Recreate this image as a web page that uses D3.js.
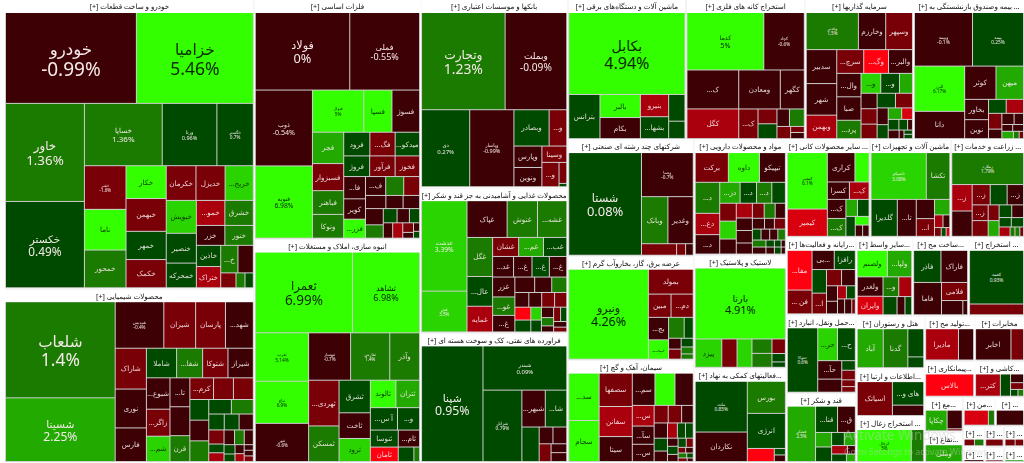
<!DOCTYPE html>
<html><head><meta charset="utf-8">
<style>html,body{margin:0;padding:0;background:#fff;overflow:hidden}svg{display:block;filter:blur(0.3px)}text{font-family:"Noto Sans","DejaVu Sans",sans-serif}</style>
<script src="https://cdn.jsdelivr.net/npm/d3@7"></script></head><body><div id="c"></div>
<script>
// [name, change %, weight]
const auto=[["خودرو",-0.99,11528],["خزامیا",5.46,10300],["خاور",1.36,7500],["خکستر",0.49,6600],["خساپا",1.36,4700],["ورنا",0.96,3300],["خگستر",0.7,2200],["خفنر",-1.6,1760],["ناما",5,1640],["خمحور",1.5,1520],["خکار",5,1280],["خبهمن",-1.5,1280],["خمهر",0.5,1100],["خکمک",-1.5,1100],["خکرمان",-1.5,1000],["خدیزل",-1.5,980],["خریخ...",3.5,950],["خبویش",3.5,960],["خنصیر",0.5,870],["خمحرکه",0.5,720],["خمو...",-2.5,690],["خشرق",1.5,690],["خزر",-0.6,550],["خنور",1.5,550],["خاذین",0.5,500],["ختراک",-2.5,500],["خ...",1.5,460],["",-0.6,410],["",-1.5,220],["",1.5,130],["",0.5,120]];
const chem=[["شلعاب",1.4,10260],["شسینا",2.25,6800],["شپدیس",-0.4,2200],["شیران",-1.5,1440],["پارسان",-1.5,1350],["شهد...",-0.6,1260],["شاراک",-1.5,1240],["نوری",-0.6,1180],["فارس",-0.6,1020],["شاملا",0.5,870],["شفا...",1.5,750],["شتوکا",-1.5,730],["شیراز",-0.6,730],["شبوع...",-0.6,720],["زاگر...",-1.5,620],["شم...",3.5,580],["تا...",-0.6,560],["",-0.6,560],["قرن",1.5,500],["کرم...",-1.5,500],["",-1.5,420],["",-1.5,420],["",0.5,380],["",-0.6,380],["",1.5,380],["",0.5,320],["",1.5,310],["",0.5,240],["",0.5,230],["",-0.6,220],["",-1.5,210],["",0.5,130],["",-2.5,130],["",-0.6,150],["",1.5,140],["",-0.6,130],["",0.5,100],["",0.5,80],["",-0.6,80],["",-2.5,70],["",-0.6,50],["",-0.6,50],["",-1.5,50]];
const metals=[["فولاد",0,7100],["فملی",-0.55,5250],["ذوب",-0.54,4200],["فنوبه",6.98,4000],["فنوال",5,2100],["فسپا",5,1150],["فسوژ",-0.6,1130],["فجر",2.5,950],["فسبزوار",-1.5,820],["فباهنر",1.5,720],["ونوکا",1.5,720],["فرود",0.5,600],["فگ...",-1.5,580],["میدکو...",0.5,560],["فروژ",0.5,520],["فرآور",-1.5,510],["فخوز",-1.5,490],["فا...",-0.6,470],["کویر",-0.6,430],["فزر...",5,400],["ف...",-0.6,370],["",1.5,330],["",-1.5,290],["",-0.6,260],["",-0.6,220],["",-0.6,210],["",-0.6,280],["",1.5,230],["",0.5,190],["",-0.6,170],["",0.5,140],["",-0.6,140],["",-2.5,150],["",-1.5,100],["",-0.6,60],["",-0.6,50],["",0.5,40]];
const mass=[["ثعمرا",6.99,7600],["ثشاهد",6.98,5250],["ثغرب",5.14,2500],["ثباغ",6.9,2180],["ثنور",-0.6,1970],["ثبهساز",-0.7,1930],["ثفارس",1.4,1800],["وآذر",1.5,1370],["ثهردی...",-1.5,1350],["ثمسکن",1.5,1050],["ثشرق",0.5,990],["ثاخت",-0.6,780],["ثرود",3.5,700],["ثالوند",5,680],["ثتران",2.5,630],["آ س...",0.5,590],["و...",0.5,480],["ثنوسا",0.5,460],["ثامان",-5,390],["ثام...",-0.6,350],["",0.5,220],["",1.5,80]];
const banks=[["وتجارت",1.23,8000],["وبملت",-0.09,5900],["دی",0.27,3650],["وپاسار",-0.99,3350],["وبصادر",0.5,1260],["و...",-1.5,630],["وپارس",-0.6,590],["ونوین",-0.6,530],["وسینا",-1.5,400],["و...",-1.5,410],["",-1.5,160],["",0.5,25]];
const food=[["غدشت",3.39,3900],["غش",3.5,1760],["غپاک",-0.6,1400],["غنوش",1.5,1060],["غشه...",1.5,1020],["غگل",1.5,950],["عال...",0.5,725],["غمایه",-2.5,625],["غشان",-1.5,470],["غم...",2.5,450],["غب...",0.5,420],["غد...",-0.6,410],["غ...",-0.6,360],["غ...",0.5,340],["غ...",-0.6,340],["غزر",-0.6,420],["غو...",1.5,390],["غ...",-0.6,350],["",-0.6,290],["",-0.6,250],["",1.5,220],["",-0.6,195],["",-0.6,180],["",-1.5,180],["",-1.5,170],["",-5,195],["",0.5,180],["",3.5,130],["",0.5,120],["",-0.6,120],["",1.5,96],["",-0.6,70],["",-1.5,95],["",0.5,84],["",-0.6,70],["",-1.5,60]];
const oil=[["شپنا",0.95,6900],["شبندر",0.09,3600],["شرانل",0.79,2700],["شبهر...",-0.6,840],["شا...",0.5,770],["",0.5,580],["",-0.6,225],["",-0.6,225],["",-1.5,205],["",-0.6,135],["",-0.6,135]];
const elecMach=[["بکابل",4.94,9400],["بترانس",0.5,1360],["بالبر",5,920],["بکام",-0.6,840],["بنیرو",-2.5,620],["بشها...",0.5,610],["",0.5,430],["",0.5,280]];
const mining=[["کدما",5,4250],["کچاد",-0.6,2240],["ک...",-0.6,1940],["کگل",-2.5,1480],["ومعادن",-0.6,1560],["کگهر",-0.6,900],["ک...",-1.5,550],["",-1.5,270],["",0.5,270],["",-0.6,210],["",1.5,250],["",-1.5,160],["",-1.5,80],["",-0.6,80]];
const capital=[["وغدیر",1.5,1870],["وخارزم",-0.6,980],["وسپهر",-1.5,960],["سدبیر",-0.6,1000],["شهر",-0.6,930],["وبهمن",-2.5,690],["سرچ...",-1.5,620],["وگ...",-5,570],["والبر...",-0.6,550],["وال...",-0.6,550],["صبا",-0.6,550],["پرد...",1.5,430],["و...",3.5,380],["و...",0.5,360],["",2.5,250],["",-0.6,240],["",-1.5,240],["",-1.5,225],["",0.5,260],["",-1.5,240],["",-0.6,180],["",0.5,150],["",2.5,150],["",-3.5,120],["",0.5,110],["",0.5,90],["",-0.6,50],["",-0.6,90],["",-0.6,40],["",0.5,35],["",0.5,35]];
const insurance=[["وبیمه",-0.1,2960],["بیمه",0.25,2600],["البرز",6.17,2160],["دانا",-0.6,1300],["کوثر",-0.6,990],["میهن",2.5,870],["بخاور",-0.6,460],["نوین",-0.6,430],["",0.5,235],["",-2.5,230],["",-1.5,200],["",-0.6,120],["",-0.6,130],["",-0.6,100],["",-0.6,70],["",-0.6,70],["",2.5,80],["",1.5,40],["",-1.5,30]];
const multi=[["شستا",0.08,7200],["وصنا",-0.7,2200],["وبانک",1.5,1200],["وغدیر",-0.6,1150],["",-1.5,390],["",-1.5,100],["",-0.6,85]];
const power=[["ونیرو",4.26,6800],["بمولد",-1.5,1060],["مبین",-1.5,500],["دم...",-1.5,490],["بج...",-0.6,430],["ب...",5,370],["",1.5,310],["",0.5,180],["",-0.6,130],["",-1.5,120],["",0.5,100],["",1.5,80],["",1.5,60]];
const cement=[["سد...",5,1340],["سجام",5,1160],["سصفها",-1.5,1030],["سفانن",-2.5,930],["سیتا",-0.6,770],["سم...",-0.6,680],["",5,600],["",-0.6,550],["س...",-2.5,420],["سآ...",-0.6,370],["س...",-0.6,350],["",-1.5,230],["",-1.5,220],["",-0.6,190],["",-0.6,190],["",0.5,160],["",-0.6,130],["",-2.5,140],["",0.5,115],["",0.5,110],["",-0.6,80],["",0.5,80],["",-0.6,70],["",0.5,70],["",-1.5,60],["",-1.5,40],["",-0.6,40],["",1.5,40],["",0.5,30],["",-1.5,30],["",-0.6,20]];
const pharma=[["برکت",-1.5,830],["داوه",5,780],["تیپیکو",-0.6,650],["د...",1.5,640],["دع...",-2.5,440],["د...",-0.6,400],["دز...",2.5,360],["د...",0.5,290],["د...",1.5,270],["",0.5,240],["",-1.5,250],["",3.5,250],["",-0.6,210],["",-2.5,200],["",-0.6,170],["",-0.6,170],["",-0.6,150],["",-1.5,150],["",1.5,140],["",-0.6,130],["",-0.6,110],["",-0.6,90],["",-1.5,100],["",0.5,80],["",-0.6,80],["",-0.6,75],["",1.5,70],["",1.5,80],["",-0.6,80],["",0.5,50],["",-0.6,50],["",0.5,40],["",0.5,40],["",-0.6,25],["",-0.6,25]];
const rubber=[["بارتا",4.91,6200],["پیزد",3.5,730],["",-1.5,420],["",3.5,410],["",1.5,280],["",1.5,270],["",-1.5,190],["",0.5,110],["",0.5,70]];
const support=[["ملت",0.85,2550],["نکاردان",-0.6,1480],["بورس",1.5,1180],["انرژی",0.5,1290],["",-5,340],["",0.5,70],["",-0.6,70]];
const nonMetal=[["کپشیر",6.1,2170],["کیمیر",-3.5,1050],["کراری",-0.6,780],["",5,400],["کسرا",-0.6,370],["ک...",-2.5,330],["ک...",-0.6,340],["ک...",1.5,320],["",2.5,190],["",0.5,190],["",0.5,180],["",5,115],["",-0.6,80],["",-0.6,70]];
const machinery=[["تاصیکو",3.08,2400],["تکشا",1.5,1020],["گلدیرا",0.5,900],["تا...",-0.6,650],["",-0.6,325],["ا...",-1.5,300],["",2.5,220],["",-2.5,100],["",-0.6,80],["",-1.5,55],["",0.5,40],["",-3.5,30]];
const farming=[["زملارد",1.79,2000],["ز...",-2.5,470],["",-0.6,450],["ز...",-1.5,320],["",0.5,300],["ز...",-0.6,290],["ز...",-1.5,220],["",-1.5,220],["",-1.5,150],["",2.5,150],["",0.5,140],["",-0.6,130],["",0.5,100],["",0.5,100],["",-2.5,90],["",1.5,40],["",1.5,40],["",-1.5,30]];
const computers=[["مفا...",-5,920],["فن ...",-1.5,550],["...بی",-0.6,400],["رافزا",0.5,380],["",0.5,320],["ا...",-1.5,280],["",-1.5,230],["",-0.6,210],["",-0.6,160],["",-0.6,130],["",-2.5,110],["",0.5,110],["",-0.6,100],["",-0.6,100],["",-1.5,50]];
const transport=[["حتوکا",0.6,1800],["حر...",3.5,600],["ح...",0.5,540],["حآ...",-0.6,410],["",-0.6,290],["",0.5,120],["",-1.5,120],["",-1.5,85],["",-1.5,70]];
const sugar=[["قشکر",2.5,1400],["قنا...",0.5,520],["ق...",-0.6,420],["",2.5,210],["",0.5,210],["",0.5,150],["",2.5,130],["",-2.5,120],["",-0.6,60],["",0.5,100],["",2.5,60]];
const chemOther=[["ولصنم",5,720],["ولپا...",2.5,580],["ولغدر",-0.6,450],["وایران",-3.5,430],["و...",1.5,280],["",-2.5,230],["",0.5,230],["",-0.6,130],["",0.5,110]];
const build=[["فاذر",0.5,780],["فاراک",-0.6,760],["فاما",-0.6,800],["فلامی",-1.5,420],["",-0.6,270],["",-0.6,60]];
const extract=[["کغمه",0.93,2650],["",-1.5,530]];
const hotel=[["آباد",2.5,950],["گدنا",1.5,900],["",0.5,420],["",0.5,160]];
const info=[["اسیاتک",-1.5,1100],["های و...",0.5,680],["",-0.6,300]];
const coal=[["کزغال",5,1620],["",1.5,370]];
const prod=[["مادیرا",-2.5,1000],["",-0.6,460]];
const telecom=[["اخابر",-0.6,960],["",-1.5,340]];
const contract=[["بالاس",-5,980]];
const tile=[["کتر...",-2.5,440],["",0.5,180],["",-0.6,90],["",-1.5,70],["",0.5,40],["",1.5,30]];
const ma=[["چکاپا",2.5,440],["",-0.6,280],["",-1.5,30]];
const naqa=[["وملی",2.5,600]];
const min=[["",-3.5,240],["",1.5,60]];
const last=[["",-0.6,300]];
const s1=[["",-1.5,110],["",1.5,100]];
const s4=[["",-0.6,60]];
const s2=[["",-1.5,100]];
const s5=[["",-1.5,60]];
const s3=[["",-1.5,60],["",-1.5,50]];
const s6=[["",2.5,60]];

const sectorNames=["خودرو و ساخت قطعات","محصولات شیمیایی","فلزات اساسی","انبوه سازی، املاک و مستغلات","بانکها و موسسات اعتباری","محصولات غذایی و آشامیدنی به جز قند و شکر","فراورده های نفتی، کک و سوخت هسته ای","ماشین آلات و دستگاه‌های برقی","استخراج کانه های فلزی","سرمایه گذاریها","... بیمه وصندوق بازنشستگی به","شرکتهای چند رشته ای صنعتی","عرضه برق، گاز، بخاروآب گرم","سیمان، آهک و گچ","مواد و محصولات دارویی","لاستیک و پلاستیک","...فعالیتهای کمکی به نهاد","... سایر محصولات کانی","ماشین آلات و تجهیزات","... زراعت و خدمات","...رایانه و فعالیت‌ها","...حمل ونقل، انبارد","قند و شکر","...سایر واسط","...ساخت مح","... استخراج","هتل و رستوران","...اطلاعات و ارتبا","... استخراج زغال","...تولید مح","مخابرات","...پیمانکاری","...کاشی و","...مع","...نقاع","...من","...","...","...","...","...","...","..."];
const sectorWeights=[72000,43250,39700,37000,27600,21300,19000,16500,16660,15100,15500,14700,13100,12900,10600,10400,8650,8150,7860,7180,5400,5460,4830,4400,4370,4370,3600,3260,3130,2250,2250,1800,1800,1330,1180,930,840,440,340,400,300,420,320];
const sectorTiles=[auto,chem,metals,mass,banks,food,oil,elecMach,mining,capital,insurance,multi,power,cement,pharma,rubber,support,nonMetal,machinery,farming,computers,transport,sugar,chemOther,build,extract,hotel,info,coal,prod,telecom,contract,tile,ma,naqa,min,last,s1,s4,s2,s5,s3,s6];
// companies per strip in each sector: positive = strip across the top, negative = strip down the left
const stripCounts=[[2,-2,3,-3,-4,3,-3,2,2,-2,2,-1,-1,-1],[-2,4,-3,4,-3,-3,3,-3,2,3,-3,3,-2,-2,-3],[2,-2,3,-4,3,3,-3,3,3,-2,3,-1,-1,-2,-2],[2,-3,3,-2,-3,2,2,-2,1,2],[2,-1,-1,2,-2,1,-1,1,1],[-2,3,-3,3,4,-3,3,4,-2,-2,-3,2,1,1],[-1,1,-1,2,-1,2,-1,1,1],[1,-1,-2,-2,-2],[2,-2,2,-1,-2,2,-1,-2],[3,-3,3,-3,3,-3,2,-2,2,3,-1,-1,-2],[2,-2,2,-2,2,-2,2,2,3],[-1,1,2,3],[-1,1,2,-2,2,-2,1,1,1],[-2,-3,3,-3,3,-3,3,-3,2,2,2,2],[3,-3,4,-3,-4,3,3,4,-2,-2,-2,-2],[1,-1,-1,-1,-2,-3],[-2,1,1,-1,1,1],[-2,2,2,-2,2,-1,1,2],[2,-1,-1,-2,1,2,3],[1,-2,3,-2,-2,2,2,4],[-2,2,-2,2,-2,2,3],[-1,2,-2,1,1,1,1],[-1,2,-2,2,2,2],[2,-2,2,3],[2,-1,1,-1,-1],[1,1],[-1,-1,1,1],[-1,1,1],[-1,-1],[-1,-1],[-1,-1],[1],[-1,-1,1,1,2],[-1,1,1],[1],[-1,-1],[1],[-1,-1],[1],[1],[1],[-1,-1],[1]];
const watermark=["Activate Windows","Go to Settings to activate Windows."];

const W=1024,H=463;
const table={name:"root",children:sectorTiles.map((t,i)=>{
  const tot=d3.sum(t,d=>d[2]);
  return {name:sectorNames[i],strips:stripCounts[i],children:t.map(d=>({name:d[0],pct:d[1],value:sectorWeights[i]*d[2]/tot}))};
})};
const root=d3.hierarchy(table).sum(d=>d.value||0);
const squarify=d3.treemapSquarify.ratio(1);
function stripTile(node,x0,y0,x1,y1){
  if(!node.parent) return squarify(node,x0,y0,x1,y1);
  let i=0,value=node.value;
  for(const n of node.data.strips){
    const c=Math.abs(n),kids=node.children.slice(i,i+c); i+=c;
    if(!kids.length) break;
    const sum=d3.sum(kids,k=>k.value),row={value:sum,children:kids},dx=x1-x0,dy=y1-y0;
    if(n>0) d3.treemapDice(row,x0,y0,x1,y0+=dy*sum/value);
    else d3.treemapSlice(row,x0,y0,x0+=dx*sum/value,y1);
    value-=sum;
  }
}
d3.treemap().tile(stripTile).size([1019,462])
  .paddingInner(1).paddingOuter(d=>d.depth?1:0).paddingTop(d=>d.depth?13:0).round(false)(root);

const color=d3.scaleThreshold().domain([-4,-3,-2,-1,0.001,1,2,3,4])
  .range(["#ff0010","#d8000e","#aa000e","#7a0008","#3d0004","#004a00","#1b7a00","#22aa00","#2ad400","#33ff00"]);
const bigFont=d3.scaleLinear().domain([1500,3000,5000,7000,9300,11500]).range([4.5,5,8.5,12.5,16,19]).clamp(true);

const svg=d3.select("#c").append("svg").attr("width",W).attr("height",H);
const g=svg.append("g").attr("transform","translate(5,0)");
const sec=g.selectAll("g.s").data(root.children).join("g").attr("class","s");
sec.append("rect").attr("x",d=>d.x0).attr("y",d=>d.y0).attr("width",d=>d.x1-d.x0).attr("height",d=>d.y1-d.y0).attr("fill","#cfcfcf");
sec.append("rect").attr("x",d=>d.x0).attr("y",d=>d.y0).attr("width",d=>d.x1-d.x0).attr("height",13).attr("fill","#fff");
sec.append("text").attr("x",d=>(d.x0+d.x1)/2).attr("y",d=>d.y0+9.4).attr("text-anchor","middle")
  .attr("direction","rtl").attr("font-size",7.2).attr("fill","#111").text(d=>d.data.name+" [+]");
const leaf=g.selectAll("g.l").data(root.leaves()).join("g").attr("class","l");
leaf.append("rect").attr("x",d=>d.x0).attr("y",d=>d.y0).attr("width",d=>Math.max(0,d.x1-d.x0)).attr("height",d=>Math.max(0,d.y1-d.y0)).attr("fill",d=>color(d.data.pct));
const area=d=>(d.x1-d.x0)*(d.y1-d.y0);
const nameInk=d=>d.data.pct>3?"#052800":"#f5eaea";
const fullInk=d=>d.data.pct>4?"#052800":"#f5eaea";
leaf.each(function(d){
  if(!d.data.name)return;
  const el=d3.select(this),cx=(d.x0+d.x1)/2,cy=(d.y0+d.y1)/2,a=area(d);
  if(d.value<1880||d.data.name.includes("...")){
    el.append("text").attr("x",cx).attr("y",cy+2.5).attr("text-anchor","middle").attr("direction","rtl")
      .attr("font-size",7.2).attr("fill",nameInk(d)).attr("opacity",0.9).text(d.data.name);
  }else{
    const fs=bigFont(a);
    el.append("text").attr("x",cx).attr("y",cy-fs*0.16).attr("text-anchor","middle").attr("direction","rtl")
      .attr("font-size",fs*0.88).attr("fill",fullInk(d)).text(d.data.name);
    el.append("text").attr("x",cx).attr("y",cy+fs*0.95).attr("text-anchor","middle").attr("direction","ltr")
      .attr("font-size",fs).attr("fill",fullInk(d)).text(d.data.pct+"%");
  }
});
svg.append("text").attr("x",844).attr("y",440).attr("font-size",13.5).attr("fill","#c8c8c8").attr("opacity",0.45).text(watermark[0]);
svg.append("text").attr("x",844).attr("y",455).attr("font-size",8.8).attr("fill","#c8c8c8").attr("opacity",0.45).text(watermark[1]);
</script></body></html>
